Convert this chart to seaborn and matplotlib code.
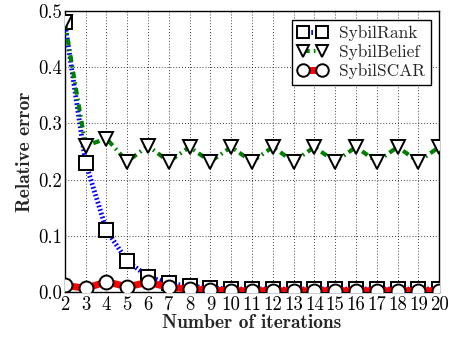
import matplotlib
matplotlib.use("Agg")
import matplotlib.pyplot as plt
import seaborn as sns
import pandas as pd
import numpy as np

iterations = list(range(2, 21))
sybil_rank = [0.48, 0.23, 0.11, 0.055, 0.027, 0.015, 0.01, 0.007, 0.005, 0.005,
              0.005, 0.005, 0.005, 0.005, 0.005, 0.005, 0.005, 0.005, 0.005]
sybil_belief = [0.48, 0.26, 0.273, 0.232, 0.26, 0.232, 0.258, 0.232, 0.258, 0.232,
                0.258, 0.232, 0.258, 0.232, 0.258, 0.232, 0.258, 0.232, 0.258]
sybil_scar = [0.012, 0.006, 0.018, 0.009, 0.017, 0.008, 0.005, 0.003, 0.002, 0.002,
              0.002, 0.002, 0.002, 0.002, 0.002, 0.002, 0.002, 0.002, 0.002]
series_names = ["SybilRank", "SybilBelief", "SybilSCAR"]
x_ticks = list(range(2, 21))
y_ticks = [0.0, 0.1, 0.2, 0.3, 0.4, 0.5]

sns.set_style("white")
plt.rcParams["font.family"] = ["cmr10", "DejaVu Serif"]
plt.rcParams["axes.formatter.use_mathtext"] = True
plt.rcParams["mathtext.fontset"] = "cm"

fig = plt.figure(figsize=(4.5, 3.37), dpi=100)
ax = fig.add_axes([0.144, 0.134, 0.832, 0.833])

df = pd.DataFrame({"x": iterations, "SybilRank": sybil_rank,
                   "SybilBelief": sybil_belief, "SybilSCAR": sybil_scar})

styles = {
    "SybilRank": dict(color="blue", ls=(0, (0.35, 0.45)), marker="s", lw=3.5, ms=9.5),
    "SybilBelief": dict(color="green", ls=(0, (1.6, 1.0, 0.4, 1.0)), marker="v", lw=3.0, ms=10),
    "SybilSCAR": dict(color="red", ls="-", marker="o", lw=5.0, ms=10),
}
for name in series_names:
    st = styles[name]
    sns.lineplot(data=df, x="x", y=name, ax=ax, color=st["color"], linestyle=st["ls"],
                 linewidth=st["lw"], marker=st["marker"], markersize=st["ms"],
                 markerfacecolor="white", markeredgecolor="black", markeredgewidth=1.4,
                 label=name, zorder=3)

ax.set_xlim(2, 20)
ax.set_ylim(0, 0.5)
ax.set_xticks(x_ticks)
ax.set_xticklabels([str(t) for t in x_ticks])
ax.set_yticks(y_ticks)
ax.set_yticklabels([f"{t:.1f}" for t in y_ticks])
ax.tick_params(direction="in", length=3, labelsize=13.5, pad=2, colors="black")
ax.tick_params(axis="x", pad=3)
ax.grid(True, ls=(0, (1, 2.5)), color="black", lw=0.6)
for s in ax.spines.values():
    s.set_color("black")
    s.set_linewidth(1.0)
ax.set_xlabel("Number of iterations", fontsize=14, fontfamily="cmb10", labelpad=0)
ax.set_ylabel("Relative error", fontsize=14, fontfamily="cmb10", labelpad=3)

leg = ax.legend(loc="upper right", fontsize=12.5, frameon=True, fancybox=False,
                edgecolor="black", framealpha=1, borderpad=0.3, handlelength=1.7,
                handletextpad=0.7, labelspacing=0.2, borderaxespad=0.5, numpoints=2)
leg.get_frame().set_linewidth(1.0)
for h in leg.legend_handles:
    h.set_markersize(9)

fig.savefig("out.png", dpi=100)
